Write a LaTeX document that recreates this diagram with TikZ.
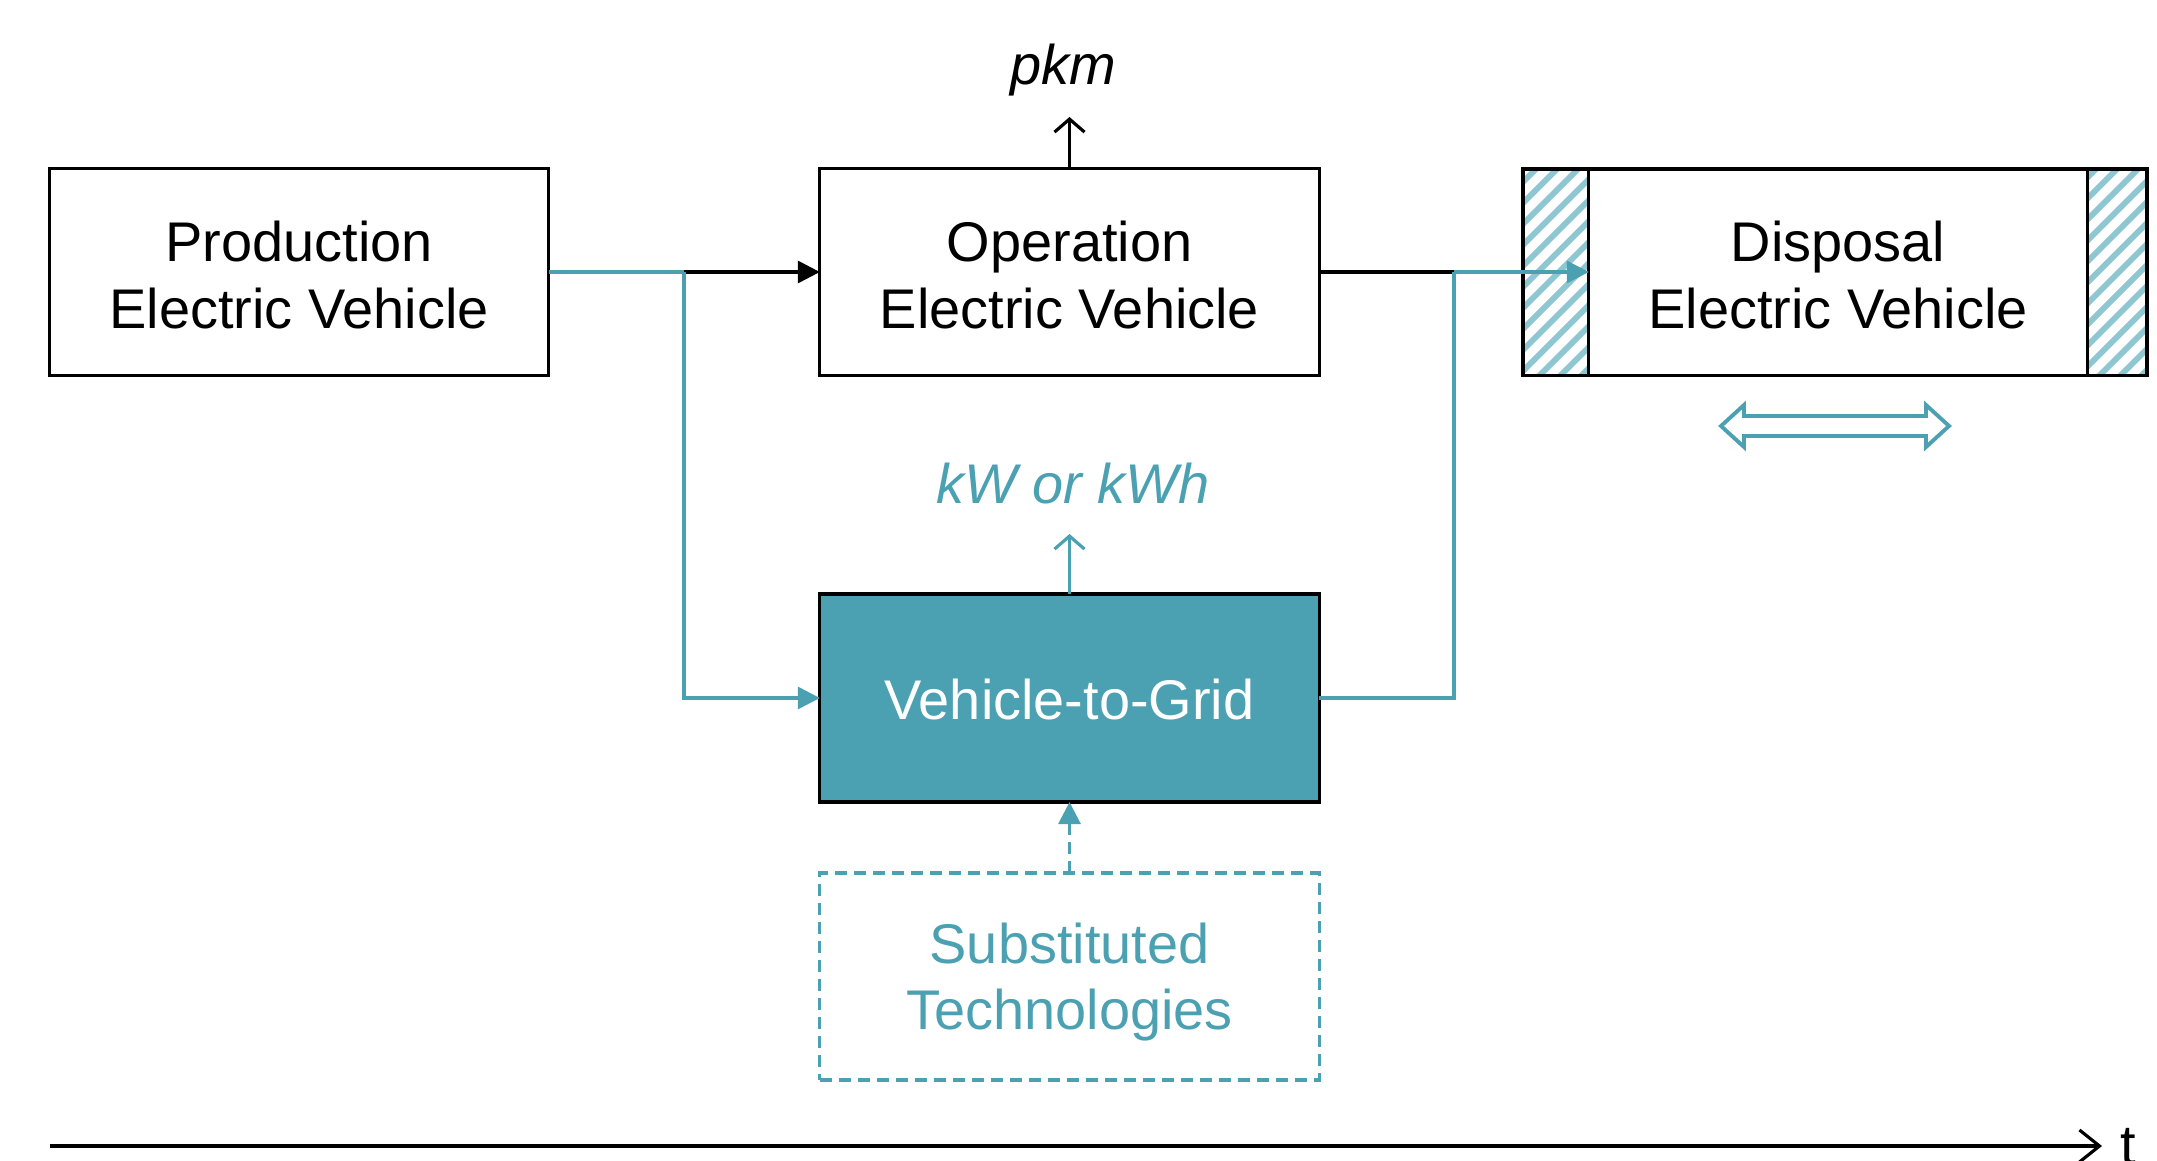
\documentclass[tikz,border=0pt]{standalone}
\usepackage{fontspec}
\setmainfont{Liberation Sans}
\usetikzlibrary{arrows.meta}
\definecolor{tealc}{HTML}{4BA1B2}
\definecolor{hatchc}{HTML}{8EC6D1}
\tikzset{
  box/.style={draw=black, line width=0.9pt, minimum width=4.99cm, minimum height=2.065cm, inner sep=0pt, outer sep=0pt, align=center, font=\fontsize{15.9}{19}\selectfont},
  tline/.style={draw=tealc, line width=0.9pt},
  bline/.style={draw=black, line width=0.9pt},
  tri/.style={-{Triangle[length=0.22cm,width=0.22cm]}},
  ttri/.style={-{Triangle[length=0.22cm,width=0.22cm,fill=tealc]}},
  barb/.style={-{Straight Barb[length=0.13cm,width=0.3cm]}},
  lbl/.style={font=\fontsize{15.9}{19}\selectfont\itshape, inner sep=0pt},
  txt/.style={inner sep=0pt, align=center, font=\fontsize{15.9}{19}\selectfont}
}
\begin{document}
\begin{tikzpicture}[x=0.01cm,y=-0.01cm]
\useasboundingbox (0,0) rectangle (2157,1161);
% boxes
\node[box] (prod) at (299,272) {};
\node[txt] (prodt) at (299,275) {Production\\Electric Vehicle};
\node[box] (op) at (1069.5,272) {};
\node[txt] (opt) at (1069.5,275) {Operation\\Electric Vehicle};
\node[box, fill=tealc, text=white, minimum height=2.08cm] (v2g) at (1069.5,698) {};
\node[txt, text=white] (v2gt) at (1069.5,700) {Vehicle-to-Grid};
\node[box, draw=tealc, dashed, dash pattern=on 0.12cm off 0.07cm, minimum height=2.07cm] (sub) at (1069.5,976.5) {};
\node[txt, text=tealc] (subt) at (1069.5,982) {Substituted\\Technologies};
% disposal with hatched ends
\begin{scope}
  \clip (1523,169) rectangle (1589,375.5);
  \foreach \k in {-300,-279,...,300} {
    \draw[hatchc, line width=1.7pt] (1500,400+\k) -- (1650,250+\k);
  }
\end{scope}
\begin{scope}
  \clip (2087,169) rectangle (2147,375.5);
  \foreach \k in {-300,-279,...,300} {
    \draw[hatchc, line width=1.7pt] (2060,400+\k) -- (2210,250+\k);
  }
\end{scope}
\node[box, minimum width=4.98cm] (disp) at (1838,272) {};
\node[txt] (dispt) at (1838,275) {Disposal\\Electric Vehicle};
\draw[line width=0.9pt] (1523,169) rectangle (2147,375.5);
% connectors
\coordinate (j1) at (684,272);
\coordinate (j2) at (1454,272);
\draw[tline] (prod.east) -- (j1);
\draw[bline, tri] (j1) -- (op.west);
\draw[tline, ttri] (j1) |- (v2g.west);
\draw[bline] (op.east) -- (j2);
\draw[tline, ttri] (j2) -- (disp.west);
\draw[tline] (v2g.east) -| (j2);
% outputs
\node[lbl] (pkm) at (1063,70) {pkm};
\coordinate (pkmend) at (1069.5,117);
\draw[bline, barb] (op.north) -- (pkmend);
\node[lbl, text=tealc] (kw) at (1073,484) {kW or kWh};
\coordinate (kwend) at (1069.5,534);
\draw[tline, barb] (v2g.north) -- (kwend);
\draw[tline, dashed, dash pattern=on 0.12cm off 0.07cm, ttri] (sub.north) -- (v2g.south);
% double arrow
\draw[tealc, line width=1.1pt, line join=miter]
  (1721,426) -- (1744,405) -- (1744,416) -- (1926,416) -- (1926,405) -- (1949,426)
  -- (1926,447) -- (1926,436) -- (1744,436) -- (1744,447) -- cycle;
% time axis
\coordinate (t0) at (49.5,1146);
\coordinate (t1) at (2102,1146);
\draw[bline, -{Straight Barb[length=0.2cm,width=0.32cm]}] (t0) -- (t1);
\node[font=\fontsize{15.9}{19}\selectfont, anchor=north, inner sep=0pt] (tl) at (2128,1128) {t};
\end{tikzpicture}
\end{document}
